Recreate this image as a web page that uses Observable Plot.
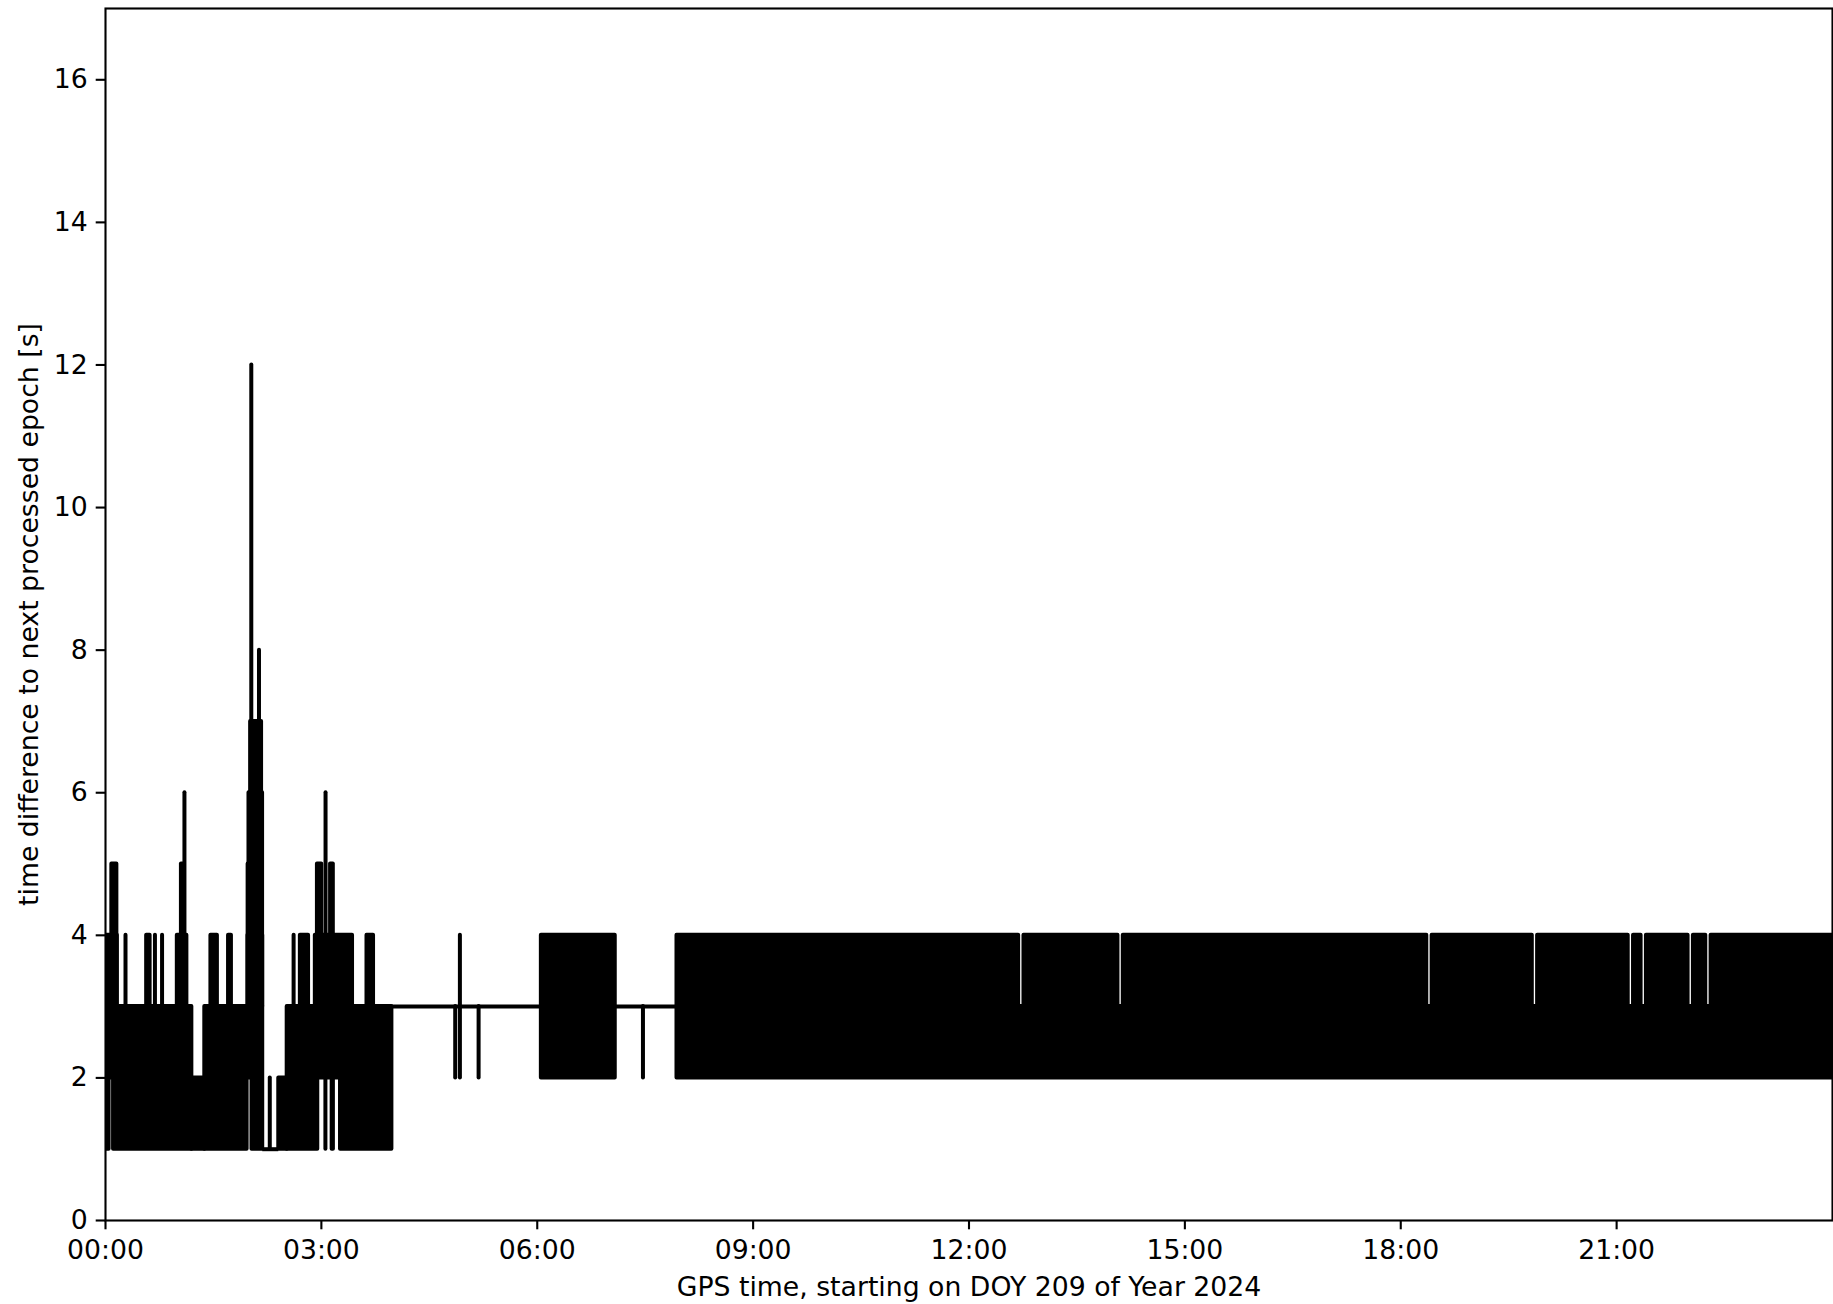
<!DOCTYPE html>
<html>
<head>
<meta charset="utf-8">
<script src="https://cdn.jsdelivr.net/npm/d3@7"></script>
<script src="https://cdn.jsdelivr.net/npm/@observablehq/plot@0.6"></script>
<style>
  html, body { margin: 0; padding: 0; background: #ffffff; overflow: hidden; }
  #chart svg { display: block; }
</style>
</head>
<body>
<div id="chart"></div>
<script>
// ---------- texts and ticks ----------
const xLabel = "GPS time, starting on DOY 209 of Year 2024";
const yLabel = "time difference to next processed epoch [s]";
const xTicks = [0, 3, 6, 9, 12, 15, 18, 21];            // hours
const xTickLabels = ["00:00", "03:00", "06:00", "09:00", "12:00", "15:00", "18:00", "21:00"];
const yTicks = [0, 2, 4, 6, 8, 10, 12, 14, 16];
const xDomain = [0, 24];
const yDomain = [0, 17];

// ---------- data (time in hours of day, values in s) ----------
// Stretches where the series alternates so densely it forms a solid band: start, end, low, high
const bandStart = [0.000, 0.050, 0.112, 1.200, 1.380, 1.968, 2.036, 2.408, 2.525, 2.950, 3.150, 3.167, 3.266,
                   0.000, 0.088, 0.572, 0.998, 1.055, 1.465, 1.710, 1.980, 1.982, 1.994, 2.017, 2.708, 2.916, 2.945, 3.128, 3.634,
                   6.057, 7.942,
                   7.942, 12.764, 14.144, 18.436, 19.902, 21.235, 21.414, 22.067, 22.313];
const bandEnd   = [0.050, 0.112, 1.200, 1.380, 1.968, 2.036, 2.185, 2.525, 2.950, 3.150, 3.167, 3.266, 3.980,
                   0.165, 0.158, 0.620, 1.131, 1.080, 1.555, 1.750, 2.185, 2.100, 2.183, 2.169, 2.822, 3.433, 3.005, 3.166, 3.725,
                   7.084, 24.000,
                   12.690, 14.070, 18.362, 19.828, 21.161, 21.340, 21.993, 22.239, 24.000];
const bandLow   = [1, 2, 1, 1, 1, 2, 1, 1, 1, 2, 1, 2, 1,
                   3, 3, 3, 3, 3, 3, 3, 3, 3, 3, 3, 3, 3, 3, 3, 3,
                   2, 2,
                   3, 3, 3, 3, 3, 3, 3, 3, 3];
const bandHigh  = [3, 3, 3, 2, 3, 3, 3, 2, 3, 3, 3, 3, 3,
                   4, 5, 4, 4, 5, 4, 4, 4, 5, 6, 7, 4, 4, 5, 5, 4,
                   4, 3,
                   4, 4, 4, 4, 4, 4, 4, 4, 4];

// Isolated single excursions: time, low, high
const spikeTime = [0.278, 0.687, 0.786, 1.097, 2.026, 2.133, 2.283, 2.614, 3.056, 3.058, 4.860, 4.925, 5.185, 7.469];
const spikeLow  = [3, 3, 3, 3, 7, 7, 1, 3, 1, 3, 2, 2, 2, 2];
const spikeHigh = [4, 4, 4, 6, 12, 8, 2, 4, 2, 6, 3, 4, 3, 3];

// Constant stretches: start, end, value
const flatStart = [2.185, 3.980];
const flatEnd   = [2.408, 7.942];
const flatValue = [1, 3];

// ---------- tables built from the arrays ----------
const bands = bandStart.map((s, i) => ({s, e: bandEnd[i], lo: bandLow[i], hi: bandHigh[i]}));
const spikes = spikeTime.map((t, i) => ({t, lo: spikeLow[i], hi: spikeHigh[i]}));
const flats = flatStart.map((s, i) => ({s, e: flatEnd[i], v: flatValue[i]}));

const LW = 4;          // line width of the series
const FS = 26.7;       // font size

const chart = Plot.plot({
  width: 1833,
  height: 1304,
  marginLeft: 105,
  marginRight: 1,
  marginTop: 8,
  marginBottom: 84,
  style: {fontFamily: "DejaVu Sans", fontSize: FS + "px", color: "black", background: "white"},
  x: {domain: xDomain, label: null},
  y: {domain: yDomain, label: null},
  marks: [
    Plot.rect(bands, {x1: "s", x2: "e", y1: "lo", y2: "hi", fill: "black", stroke: "black",
                      strokeWidth: LW, strokeLinejoin: "round", clip: true}),
    Plot.ruleX(spikes, {x: "t", y1: "lo", y2: "hi", stroke: "black", strokeWidth: LW,
                        strokeLinecap: "round", clip: true}),
    Plot.ruleY(flats, {y: "v", x1: "s", x2: "e", stroke: "black", strokeWidth: LW, clip: true}),
    Plot.axisX({ticks: xTicks, tickFormat: d => xTickLabels[xTicks.indexOf(d)], tickSize: 9.3,
                tickPadding: 10, strokeWidth: 2.1, fontSize: FS, label: null}),
    Plot.axisY({ticks: yTicks, tickSize: 9.3, tickPadding: 8.5, strokeWidth: 2.1, fontSize: FS, label: null}),
    Plot.text([xLabel], {text: d => d, frameAnchor: "bottom", dy: 66.5, lineAnchor: "middle",
                         textAnchor: "middle", fontSize: FS, fill: "black"}),
    Plot.text([yLabel], {text: d => d, frameAnchor: "left", dx: -76, rotate: -90, lineAnchor: "middle",
                         textAnchor: "middle", fontSize: FS, fill: "black"}),
    Plot.frame({stroke: "black", strokeWidth: 2.1})
  ]
});
document.getElementById("chart").appendChild(chart);
</script>
</body>
</html>
